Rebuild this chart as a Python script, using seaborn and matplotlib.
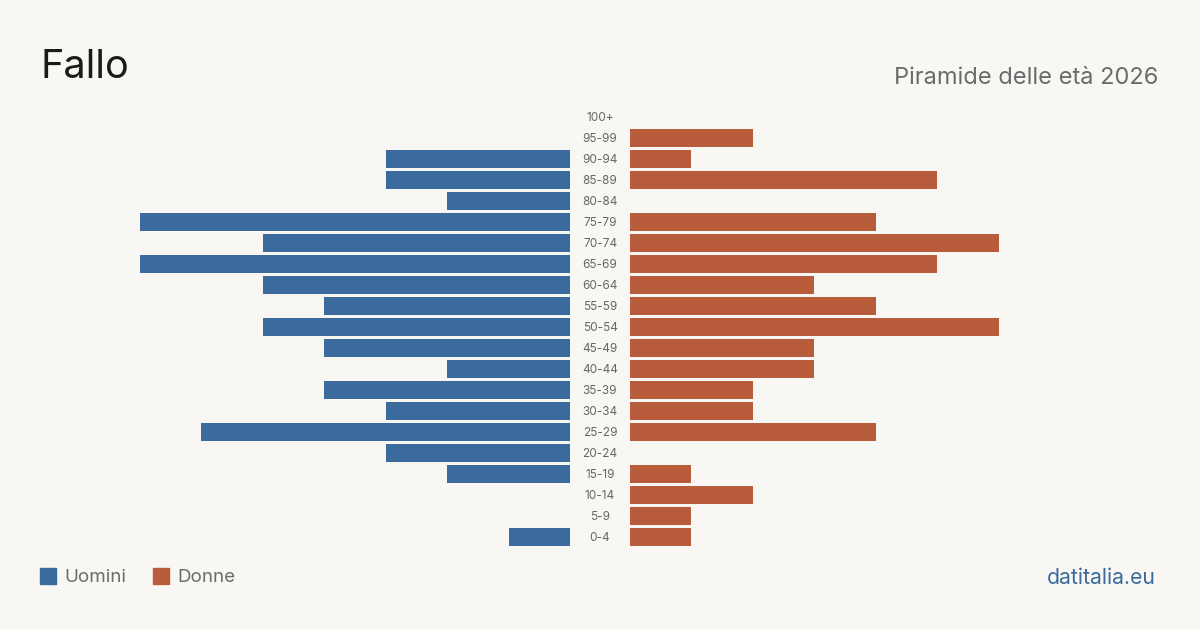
import pandas as pd
import matplotlib
matplotlib.use("Agg")
import matplotlib.pyplot as plt
import seaborn as sns

# classi d'età, dall'alto verso il basso
classi = ["100+", "95-99", "90-94", "85-89", "80-84", "75-79", "70-74", "65-69",
          "60-64", "55-59", "50-54", "45-49", "40-44", "35-39", "30-34", "25-29",
          "20-24", "15-19", "10-14", "5-9", "0-4"]
uomini = [0, 0, 3, 3, 2, 7, 5, 7, 5, 4, 5, 4, 2, 4, 3, 6, 3, 2, 0, 0, 1]
donne = [0, 2, 1, 5, 0, 4, 6, 5, 3, 4, 6, 3, 3, 2, 2, 4, 0, 1, 2, 1, 1]

BG = "#f9f7f3"
BLU = "#3b6b9c"
ROSSO = "#b95c3c"

sns.set_theme(style="white")
plt.rcParams["font.family"] = ["Inter", "DejaVu Sans"]

df = pd.DataFrame({"classe": classi, "Uomini": uomini, "Donne": donne})

fig = plt.figure(figsize=(12, 6.3), dpi=100, facecolor=BG)
W, H = 1200, 630
top, bottom = 106.5, 547.5
ax_l = fig.add_axes([140 / W, 1 - bottom / H, 430 / W, (bottom - top) / H])
ax_r = fig.add_axes([630 / W, 1 - bottom / H, 430 / W, (bottom - top) / H])

sns.barplot(data=df, y="classe", x="Uomini", color=BLU, width=0.81,
            saturation=1, linewidth=0, ax=ax_l, order=classi)
sns.barplot(data=df, y="classe", x="Donne", color=ROSSO, width=0.81,
            saturation=1, linewidth=0, ax=ax_r, order=classi)

ax_l.set_xlim(7, 0)
ax_r.set_xlim(0, 7)
for ax in (ax_l, ax_r):
    ax.set_facecolor("none")
    ax.set_ylim(len(classi) - 0.5, -0.5)
    ax.set_xticks([])
    ax.set_yticks([])
    ax.set_xlabel("")
    ax.set_ylabel("")
    sns.despine(ax=ax, left=True, bottom=True)

# etichette delle classi al centro
for i, c in enumerate(classi):
    y = top + (i + 0.5) * (bottom - top) / len(classi) + 1
    fig.text(600 / W, 1 - y / H, c, ha="center", va="center",
             fontsize=8.5, color="#666666")

fig.text(40 / W, 1 - 68 / H, "Fallo", fontsize=28.5, color="#1a1a1a",
         ha="left", va="center")
fig.text(1158 / W, 1 - 78 / H, "Piramide delle età 2026", fontsize=17,
         color="#6b6b6b", ha="right", va="center")

# legenda
fig.patches.append(plt.Rectangle((40 / W, 1 - 584 / H), 16 / W, 16 / H,
                                 transform=fig.transFigure, color=BLU))
fig.text(64 / W, 1 - 577.5 / H, "Uomini", fontsize=13.5, color="#6b6b6b",
         ha="left", va="center")
fig.patches.append(plt.Rectangle((153 / W, 1 - 584 / H), 16 / W, 16 / H,
                                 transform=fig.transFigure, color=ROSSO))
fig.text(177 / W, 1 - 577.5 / H, "Donne", fontsize=13.5, color="#6b6b6b",
         ha="left", va="center")

fig.text(1156 / W, 1 - 577.5 / H, "datitalia.eu", fontsize=15.3, color=BLU,
         ha="right", va="center")

fig.savefig("out.png", dpi=100, facecolor=BG)
